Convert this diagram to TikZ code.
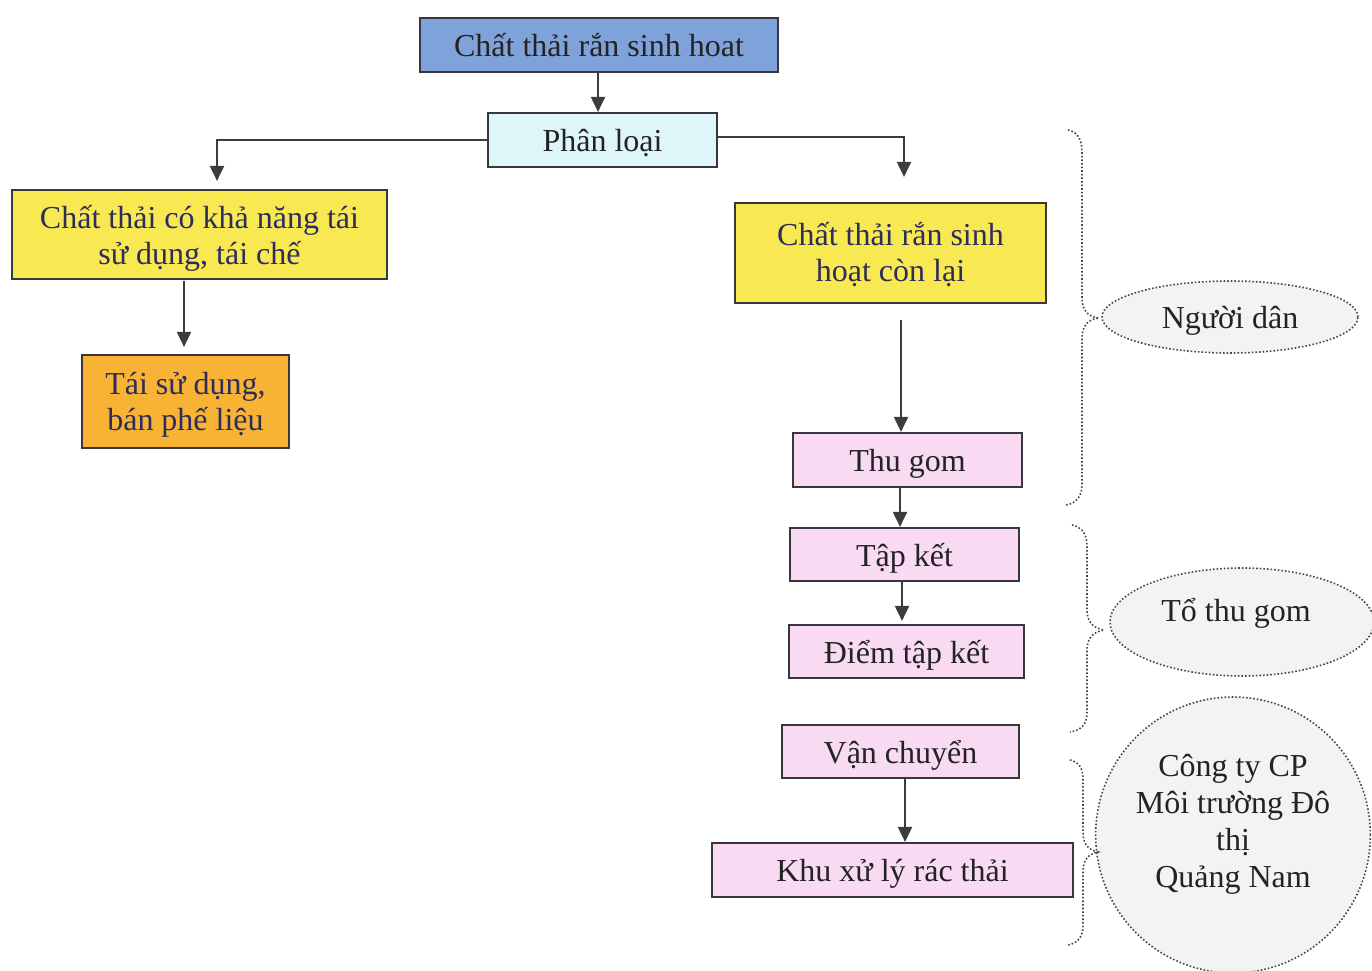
\documentclass[tikz,border=0pt]{standalone}
\usepackage{fontspec}
\setmainfont{Liberation Serif}
\usetikzlibrary{arrows.meta,shapes.geometric}
\definecolor{bluebox}{RGB}{128,162,218}
\definecolor{cyanbox}{RGB}{222,245,250}
\definecolor{yellowbox}{RGB}{248,232,82}
\definecolor{orangebox}{RGB}{248,178,52}
\definecolor{pinkbox}{RGB}{248,218,242}
\definecolor{ovalfill}{RGB}{243,243,243}
\definecolor{boxline}{RGB}{55,55,60}
\definecolor{arrline}{RGB}{60,60,60}
\definecolor{dotline}{RGB}{70,70,70}
\definecolor{txt}{RGB}{35,35,35}
\definecolor{navytxt}{RGB}{45,45,90}
\begin{document}
\begin{tikzpicture}[x=1pt,y=-1pt,
  box/.style={draw=boxline, line width=2.2pt, inner sep=0pt, align=center,
    font=\fontsize{32}{36}\selectfont, text=txt, text depth=-3pt},
  arr/.style={draw=arrline, line width=2pt, -{Triangle[width=14pt,length=15pt]}},
  oval/.style={ellipse, draw=dotline, dotted, line width=1.6pt, fill=ovalfill,
    inner sep=0pt, align=center, font=\fontsize{32}{37}\selectfont, text=txt},
  brace/.style={draw=dotline, dotted, line width=1.6pt}]
\useasboundingbox (0,0) rectangle (1372,970);
% boxes
\node[box, fill=bluebox, minimum width=358pt, minimum height=54pt] (top) at (599,45) {Chất thải rắn sinh hoat};
\node[box, fill=cyanbox, minimum width=229pt, minimum height=54pt] (pl) at (602.5,140) {Phân loại};
\node[box, fill=yellowbox, text=navytxt, minimum width=375pt, minimum height=89pt] (ly) at (199.5,234.5) {Chất thải có khả năng tái\\sử dụng, tái chế};
\node[box, fill=orangebox, text=navytxt, minimum width=207pt, minimum height=93pt] (tai) at (185.5,401.5) {Tái sử dụng,\\bán phế liệu};
\node[box, fill=yellowbox, text=navytxt, minimum width=311pt, minimum height=100pt, text depth=3pt] (ry) at (890.5,253) {Chất thải rắn sinh\\hoạt còn lại};
\node[box, fill=pinkbox, minimum width=229pt, minimum height=54pt] (tg) at (907.5,460) {Thu gom};
\node[box, fill=pinkbox, minimum width=229pt, minimum height=53pt] (tk) at (904.5,554.5) {Tập kết};
\node[box, fill=pinkbox, minimum width=235pt, minimum height=53pt] (dtk) at (906.5,651.5) {Điểm tập kết};
\node[box, fill=pinkbox, minimum width=237pt, minimum height=53pt] (vc) at (900.5,751.5) {Vận chuyển};
\node[box, fill=pinkbox, minimum width=361pt, minimum height=54pt] (kx) at (892.5,870) {Khu xử lý rác thải};
% ovals
\node[oval, minimum width=256pt, minimum height=72pt, text depth=-3pt] (nd) at (1230,317) {Người dân};
\node[oval, minimum width=264pt, minimum height=108pt, text depth=25pt] (ttg) at (1242,622) {Tổ thu gom\hspace*{12pt}};
\node[oval, minimum width=270pt, minimum height=276pt, text depth=29pt] (ct) at (1233,835) {Công ty CP\\Môi trường Đô\\thị\\Quảng Nam};
% arrows
\coordinate (tdown) at (598,72);
\coordinate (lturn) at (217,140);
\coordinate (rturn) at (904,137);
\coordinate (lydown) at (184,281);
\coordinate (rydown) at (901,320);
\draw[arr] (tdown) -- (tdown |- pl.north);
\draw[arr, shorten >=8pt] (pl.west) -- (lturn) -- (lturn |- ly.north);
\draw[arr, shorten >=25pt] (pl.east |- rturn) -- (rturn) -- (rturn |- ry.north);
\draw[arr, shorten >=7pt] (lydown) -- (lydown |- tai.north);
\draw[arr] (rydown) -- (rydown |- tg.north);
\draw[arr] (tg.south -| 900,0) -- (tk.north -| 900,0);
\draw[arr, shorten >=3pt] (tk.south -| 902,0) -- (dtk.north -| 902,0);
\draw[arr] (vc.south -| 905,0) -- (kx.north -| 905,0);
% braces
\draw[brace] (1068,130) .. controls (1078,132) and (1082,140) .. (1082,152) -- (1082,298)
  .. controls (1082,310) and (1088,317) .. (1099,318)
  .. controls (1088,319) and (1082,326) .. (1082,338) -- (1082,484)
  .. controls (1082,496) and (1077,503) .. (1066,505);
\draw[brace] (1072,525) .. controls (1082,527) and (1087,534) .. (1087,546) -- (1087,610)
  .. controls (1087,622) and (1093,628) .. (1104,630)
  .. controls (1093,632) and (1087,638) .. (1087,650) -- (1087,712)
  .. controls (1087,724) and (1082,730) .. (1070,732);
\draw[brace] (1070,760) .. controls (1079,762) and (1083,768) .. (1083,780) -- (1083,832)
  .. controls (1083,844) and (1088,850) .. (1098,852)
  .. controls (1088,854) and (1083,860) .. (1083,872) -- (1083,925)
  .. controls (1083,937) and (1078,943) .. (1068,945);
\end{tikzpicture}
\end{document}
